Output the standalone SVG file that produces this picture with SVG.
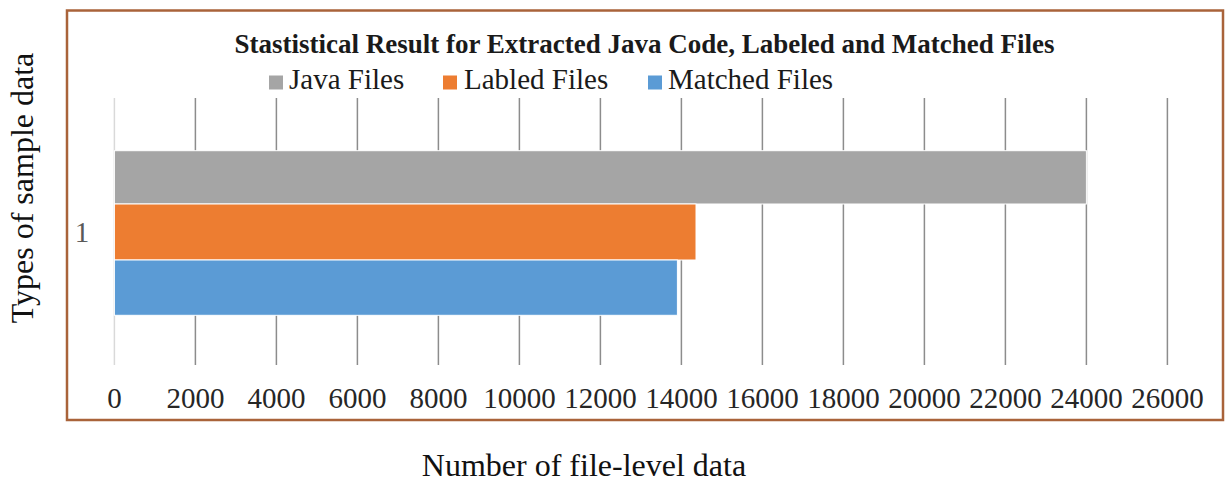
<svg xmlns="http://www.w3.org/2000/svg" width="1225" height="487" viewBox="0 0 1225 487">
  <style>
    .serif { font-family: "Liberation Serif", "Times New Roman", serif; }
    .title { font-size: 27px; font-weight: bold; fill: #1a1a1a; }
    .legend { font-size: 29px; fill: #1a1a1a; }
    .tick { font-size: 29px; fill: #262626; text-anchor: middle; }
    .cat { font-size: 29px; fill: #595959; text-anchor: middle; }
    .axis-title { font-size: 32px; fill: #111; text-anchor: middle; }
    .grid { stroke: #8c8c8c; stroke-width: 1.5; }
    .grid0 { stroke: #d9d9d9; stroke-width: 1.5; }
    .bar { stroke: #ffffff; stroke-width: 1; }
  </style>

  <rect width="1225" height="487" fill="#ffffff"/>

  <!-- chart frame -->
  <rect id="frame" x="67" y="10.5" width="1156" height="409.5" fill="#ffffff" stroke="#a9633a" stroke-width="2.5"/>

  <!-- title -->
  <text id="chart-title" class="serif title" x="644.5" y="53" text-anchor="middle">Stastistical Result for Extracted Java Code, Labeled and Matched Files</text>

  <!-- legend -->
  <g id="legend">
    <g id="legend-java">
      <rect x="269" y="75.5" width="14" height="14" fill="#a5a5a5"/>
      <text class="serif legend" x="289" y="89">Java Files</text>
    </g>
    <g id="legend-labled">
      <rect x="443" y="75.5" width="14" height="14" fill="#ed7d31"/>
      <text class="serif legend" x="464" y="89">Labled Files</text>
    </g>
    <g id="legend-matched">
      <rect x="648" y="75.5" width="14" height="14" fill="#5b9bd5"/>
      <text class="serif legend" x="668" y="89">Matched Files</text>
    </g>
  </g>

  <!-- vertical gridlines, 2000 per step -->
  <g id="gridlines">
    <line class="grid0" x1="114.4" y1="98" x2="114.4" y2="365"/>
    <line class="grid" x1="195.4" y1="98" x2="195.4" y2="365"/>
    <line class="grid" x1="276.4" y1="98" x2="276.4" y2="365"/>
    <line class="grid" x1="357.4" y1="98" x2="357.4" y2="365"/>
    <line class="grid" x1="438.4" y1="98" x2="438.4" y2="365"/>
    <line class="grid" x1="519.4" y1="98" x2="519.4" y2="365"/>
    <line class="grid" x1="600.4" y1="98" x2="600.4" y2="365"/>
    <line class="grid" x1="681.4" y1="98" x2="681.4" y2="365"/>
    <line class="grid" x1="762.4" y1="98" x2="762.4" y2="365"/>
    <line class="grid" x1="843.4" y1="98" x2="843.4" y2="365"/>
    <line class="grid" x1="924.4" y1="98" x2="924.4" y2="365"/>
    <line class="grid" x1="1005.4" y1="98" x2="1005.4" y2="365"/>
    <line class="grid" x1="1086.4" y1="98" x2="1086.4" y2="365"/>
    <line class="grid" x1="1167.4" y1="98" x2="1167.4" y2="365"/>
  </g>

  <!-- bars -->
  <g id="bars">
    <rect id="bar-java" class="bar" x="114.4" y="150.7" width="972" height="53.3" fill="#a5a5a5"/>
    <rect id="bar-labled" class="bar" x="114.4" y="204" width="581.6" height="56" fill="#ed7d31"/>
    <rect id="bar-matched" class="bar" x="114.4" y="260" width="563" height="55.3" fill="#5b9bd5"/>
  </g>

  <!-- category label -->
  <text id="category-1" class="serif cat" x="82" y="242">1</text>

  <!-- x axis tick labels -->
  <g id="x-ticks">
    <text class="serif tick" x="114.4" y="408">0</text>
    <text class="serif tick" x="195.4" y="408">2000</text>
    <text class="serif tick" x="276.4" y="408">4000</text>
    <text class="serif tick" x="357.4" y="408">6000</text>
    <text class="serif tick" x="438.4" y="408">8000</text>
    <text class="serif tick" x="519.4" y="408">10000</text>
    <text class="serif tick" x="600.4" y="408">12000</text>
    <text class="serif tick" x="681.4" y="408">14000</text>
    <text class="serif tick" x="762.4" y="408">16000</text>
    <text class="serif tick" x="843.4" y="408">18000</text>
    <text class="serif tick" x="924.4" y="408">20000</text>
    <text class="serif tick" x="1005.4" y="408">22000</text>
    <text class="serif tick" x="1086.4" y="408">24000</text>
    <text class="serif tick" x="1167.4" y="408">26000</text>
  </g>

  <!-- axis titles -->
  <text id="y-axis-title" class="serif axis-title" transform="translate(33,188) rotate(-90)">Types of sample data</text>
  <text id="x-axis-title" class="serif axis-title" x="584" y="476">Number of file-level data</text>
</svg>
